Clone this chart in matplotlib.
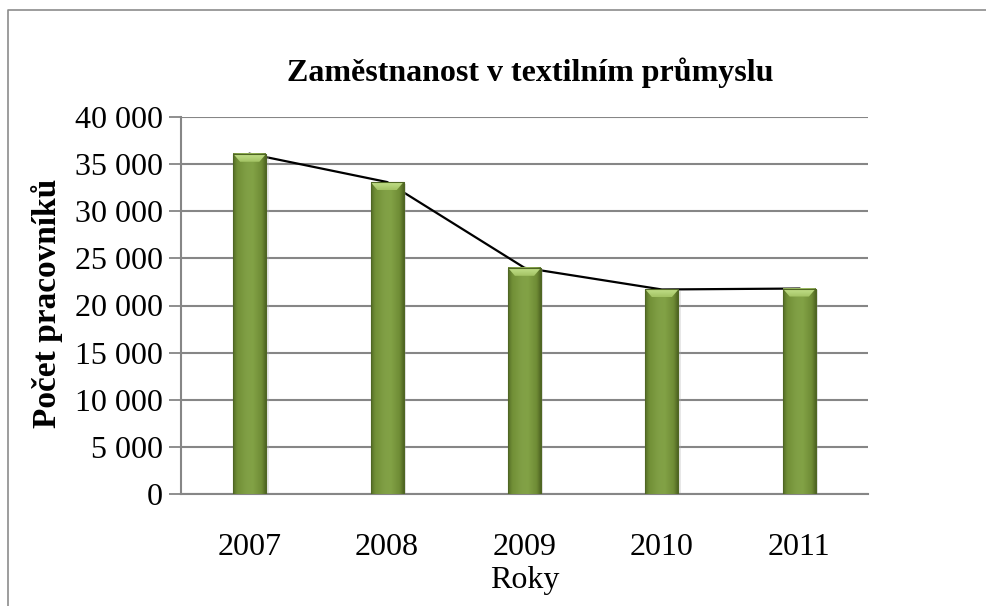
import numpy as np
import matplotlib
matplotlib.use("Agg")
import matplotlib.pyplot as plt
from matplotlib.colors import LinearSegmentedColormap
from matplotlib.lines import Line2D
from matplotlib.patches import Polygon

plt.rcParams['font.family'] = ['Liberation Serif', 'DejaVu Serif']

years = ['2007', '2008', '2009', '2010', '2011']
workers = [36100, 33100, 24000, 21700, 21800]
yticks = [0, 5000, 10000, 15000, 20000, 25000, 30000, 35000, 40000]

W, H = 986, 606
fig = plt.figure(figsize=(W / 100, H / 100), dpi=100)
ax = fig.add_axes([181 / W, 1 - 494 / H, (868 - 181) / W, (494 - 117) / H])

x = np.arange(len(years))
bw = 0.24
green = LinearSegmentedColormap.from_list(
    'bar', [(0, '#556d26'), (0.12, '#718f36'), (0.4, '#809f45'),
            (0.6, '#82a246'), (0.88, '#6f8c35'), (1, '#4f6623')])
grad = np.linspace(0, 1, 64).reshape(1, -1)
top = LinearSegmentedColormap.from_list('top', ['#a3c364', '#c6e38e'])
vgrad = np.linspace(0, 1, 16).reshape(-1, 1)

# line behind the bars
ax.plot(x, workers, color='black', lw=1.6, zorder=2)

for xi, v in zip(x, workers):
    x0, x1 = xi - bw / 2, xi + bw / 2
    # soft shadow
    ax.fill_between([x0 + 0.012, x1 + 0.018], -300, v - 200,
                    color='#b0b0b0', alpha=0.3, lw=0, zorder=2.5)
    ax.imshow(grad, cmap=green, extent=[x0, x1, 0, v], aspect='auto',
              interpolation='bicubic', zorder=3)
    bevel = Polygon([[x0, v], [x1, v], [x1 - 0.05, v - 850], [x0 + 0.05, v - 850]],
                    closed=True, facecolor='none', edgecolor='none')
    ax.add_patch(bevel)
    im = ax.imshow(vgrad, cmap=top, extent=[x0, x1, v - 850, v], aspect='auto',
                   origin='lower', interpolation='bicubic', zorder=4)
    im.set_clip_path(bevel)
    ax.plot([x0, x0, x1, x1], [0, v, v, 0], color='#4f6623', lw=0.8, zorder=5)

ax.set_xlim(-0.5, len(years) - 0.5)
ax.set_ylim(0, 40000)
ax.set_xticks(x)
ax.set_xticklabels(years, fontsize=23)
ax.set_yticks(yticks)
ax.set_yticklabels([f'{t:,}'.replace(',', ' ') for t in yticks], fontsize=23)
ax.tick_params(axis='x', length=0, pad=28)
ax.tick_params(axis='y', length=9, width=1.3, color='#868686', pad=4)
ax.yaxis.grid(True, color='#868686', lw=1.5)
ax.set_axisbelow(True)
for s in ['top', 'right']:
    ax.spines[s].set_visible(False)
for s in ['left', 'bottom']:
    ax.spines[s].set_color('#868686')
    ax.spines[s].set_linewidth(1.5)

ax.set_xlabel('Roky', fontsize=23, labelpad=3)
ax.set_ylabel('Počet pracovníků', fontsize=24, fontweight='bold')
ax.yaxis.set_label_coords(47 / W, 0.5, transform=fig.transFigure)
ax.yaxis.label.set_va('center')
fig.text(530 / W, 1 - 73 / H, 'Zaměstnanost v textilním průmyslu', fontsize=23,
         fontweight='bold', ha='center', va='center')

# outer frame of the chart object
fig.add_artist(Line2D([8 / W, 8 / W, 1], [0, 1 - 10 / H, 1 - 10 / H],
                      transform=fig.transFigure, color='#8c8c8c', lw=1.2))

fig.savefig('out.png', dpi=100)
